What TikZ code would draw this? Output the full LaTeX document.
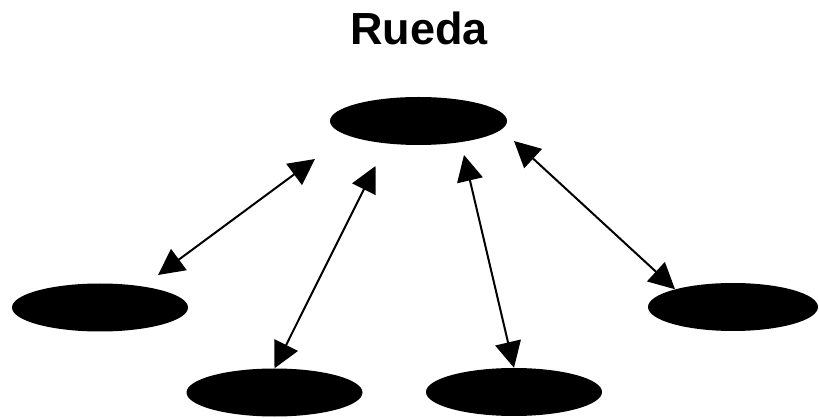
\documentclass[tikz,border=0pt]{standalone}
\usepackage{fontspec}
\setmainfont{Liberation Sans}
\usetikzlibrary{shapes.geometric, arrows.meta}
\tikzset{
    TitleText/.style={font=\fontsize{45}{54}\selectfont\bfseries},
    Blob/.style={ellipse, fill=black, inner sep=0pt, minimum width=176pt, minimum height=48pt},
    SpokeArrow/.style={{Triangle[length=26pt, width=26pt]}-{Triangle[length=26pt, width=26pt]}, line width=2pt}
}
\begin{document}
\begin{tikzpicture}[x=1pt, y=-1pt]
    \useasboundingbox (0,0) rectangle (819,419);

    \node[TitleText, anchor=base] (title) at (419,45) {Rueda};

    % centro y los cuatro de alrededor
    \node[Blob, minimum width=177pt] (hub) at (418.5,121) {};
    \node[Blob] (left) at (100,307.5) {};
    \node[Blob] (botleft) at (274.5,392.5) {};
    \node[Blob] (botright) at (514,392) {};
    \node[Blob, minimum width=170pt] (right) at (733,307) {};

    % extremos sueltos de las flechas
    \coordinate (hubA) at (315,159);
    \coordinate (hubB) at (375.5,166);
    \coordinate (hubC) at (464,155);
    \coordinate (hubD) at (514,141);
    \coordinate (leftTip) at (158,275);

    \draw[SpokeArrow] (leftTip) -- (hubA);
    \draw[SpokeArrow] (botleft.north) -- (hubB);
    \draw[SpokeArrow] (botright.north) -- (hubC);
    \draw[SpokeArrow] (right.163) -- (hubD);
\end{tikzpicture}
\end{document}
